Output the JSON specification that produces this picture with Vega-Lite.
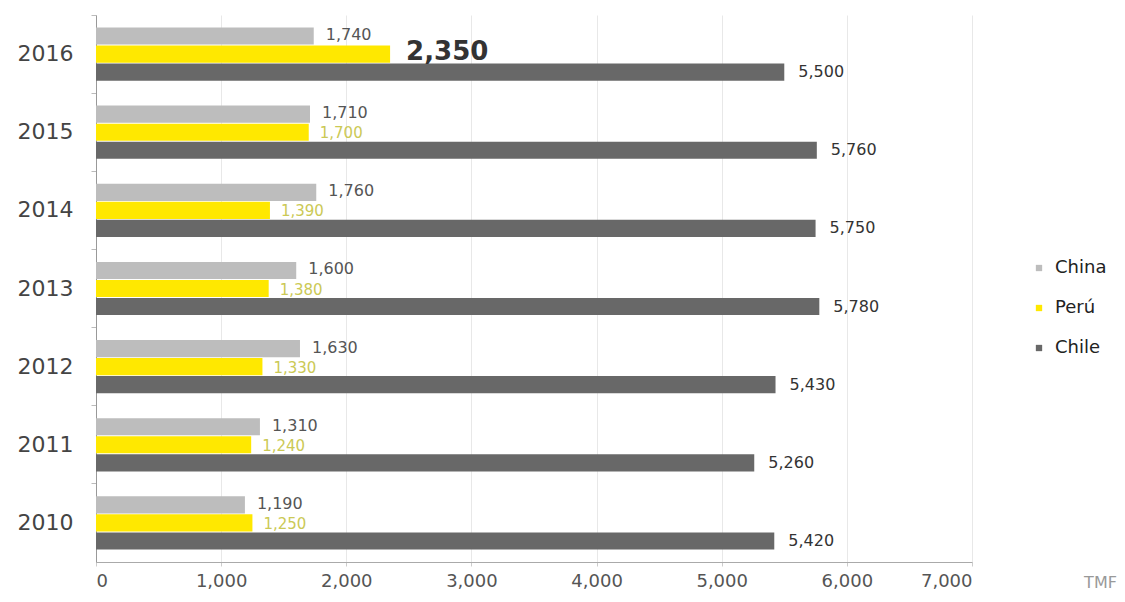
{
  "$schema": "https://vega.github.io/schema/vega-lite/v6.json",
  "width": 876,
  "height": 547,
  "autosize": "none",
  "padding": {"left": 96, "top": 15, "right": 153, "bottom": 40},
  "background": "white",
  "config": {
    "font": "DejaVu Sans",
    "view": {"stroke": null}
  },
  "data": {
    "values": [
      {"year": "2016", "country": "China", "value": 1740},
      {"year": "2016", "country": "Perú", "value": 2350},
      {"year": "2016", "country": "Chile", "value": 5500},
      {"year": "2015", "country": "China", "value": 1710},
      {"year": "2015", "country": "Perú", "value": 1700},
      {"year": "2015", "country": "Chile", "value": 5760},
      {"year": "2014", "country": "China", "value": 1760},
      {"year": "2014", "country": "Perú", "value": 1390},
      {"year": "2014", "country": "Chile", "value": 5750},
      {"year": "2013", "country": "China", "value": 1600},
      {"year": "2013", "country": "Perú", "value": 1380},
      {"year": "2013", "country": "Chile", "value": 5780},
      {"year": "2012", "country": "China", "value": 1630},
      {"year": "2012", "country": "Perú", "value": 1330},
      {"year": "2012", "country": "Chile", "value": 5430},
      {"year": "2011", "country": "China", "value": 1310},
      {"year": "2011", "country": "Perú", "value": 1240},
      {"year": "2011", "country": "Chile", "value": 5260},
      {"year": "2010", "country": "China", "value": 1190},
      {"year": "2010", "country": "Perú", "value": 1250},
      {"year": "2010", "country": "Chile", "value": 5420}
    ]
  },
  "encoding": {
    "y": {
      "field": "year",
      "type": "ordinal",
      "sort": "descending",
      "scale": {"paddingInner": 0, "paddingOuter": 0},
      "axis": {
        "title": null,
        "bandPosition": 0,
        "labelFontSize": 22,
        "labelColor": "#444444",
        "labelPadding": 18,
        "tickSize": 5,
        "tickColor": "#bbbbbb",
        "domainColor": "#999999",
        "grid": false
      }
    },
    "yOffset": {
      "field": "country",
      "type": "nominal",
      "sort": ["China", "Perú", "Chile"],
      "scale": {"domain": ["China", "Perú", "Chile"], "paddingInner": 0.05, "paddingOuter": 0.69}
    },
    "x": {
      "field": "value",
      "type": "quantitative",
      "scale": {"domain": [0, 7000], "nice": false},
      "axis": {
        "title": "TMF",
        "titleX": 1004,
        "titleY": 20,
        "titleBaseline": "middle",
        "titleAlign": "center",
        "titleColor": "#999999",
        "titleFontSize": 16,
        "titleFontWeight": "normal",
        "values": [0, 1000, 2000, 3000, 4000, 5000, 6000, 7000],
        "format": ",d",
        "labelFontSize": 18,
        "labelColor": "#555555",
        "labelPadding": 6,
        "tickSize": 4,
        "tickColor": "#cccccc",
        "domainColor": "#aaaaaa",
        "gridColor": "#e8e8e8"
      }
    }
  },
  "layer": [
    {
      "mark": {"type": "bar"},
      "encoding": {
        "color": {
          "field": "country",
          "type": "nominal",
          "scale": {"domain": ["China", "Perú", "Chile"], "range": ["#bdbdbd", "#ffe800", "#686868"]},
          "legend": {
            "title": null,
            "orient": "none",
            "legendX": 934,
            "legendY": 244,
            "symbolType": "square",
            "symbolSize": 40,
            "symbolStrokeWidth": 0,
            "labelFontSize": 18,
            "labelColor": "#222222",
            "labelOffset": 7,
            "rowPadding": 22
          }
        }
      }
    },
    {
      "transform": [{"filter": "datum.country === 'China'"}],
      "mark": {"type": "text", "align": "left", "baseline": "middle", "dx": 12, "dy": -1, "fontSize": 16, "color": "#555555"},
      "encoding": {"text": {"field": "value", "type": "quantitative", "format": ",d"}}
    },
    {
      "transform": [{"filter": "datum.country === 'Perú' && datum.year !== '2016'"}],
      "mark": {"type": "text", "align": "left", "baseline": "middle", "dx": 11, "dy": 1, "fontSize": 15, "color": "#cbc955"},
      "encoding": {"text": {"field": "value", "type": "quantitative", "format": ",d"}}
    },
    {
      "transform": [{"filter": "datum.country === 'Perú' && datum.year === '2016'"}],
      "mark": {"type": "text", "align": "left", "baseline": "middle", "dx": 16, "dy": -2, "fontSize": 26, "fontWeight": "bold", "color": "#333333"},
      "encoding": {"text": {"field": "value", "type": "quantitative", "format": ",d"}}
    },
    {
      "transform": [{"filter": "datum.country === 'Chile'"}],
      "mark": {"type": "text", "align": "left", "baseline": "middle", "dx": 14, "fontSize": 16, "color": "#333333"},
      "encoding": {"text": {"field": "value", "type": "quantitative", "format": ",d"}}
    }
  ]
}
